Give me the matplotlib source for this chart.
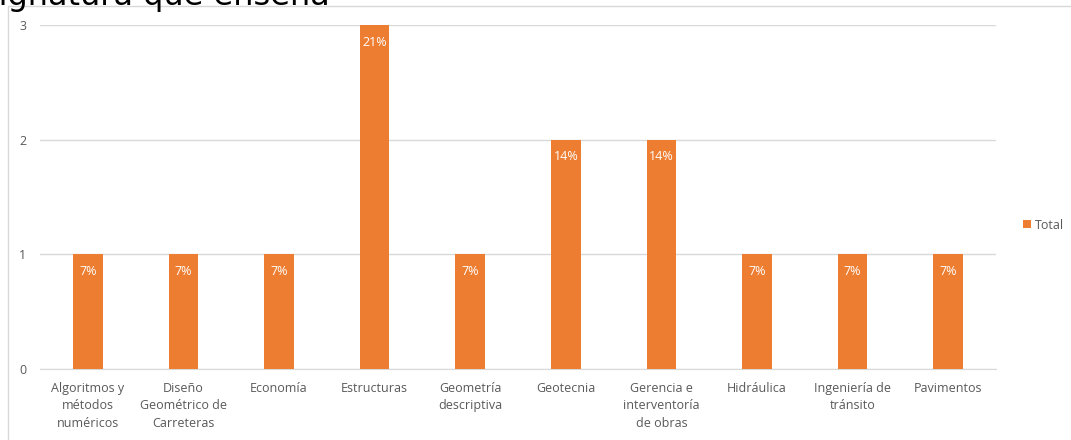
import matplotlib
matplotlib.use("Agg")
import matplotlib.pyplot as plt
from matplotlib.patches import Rectangle

categories = ["Algoritmos y\nmétodos\nnuméricos", "Diseño\nGeométrico de\nCarreteras", "Economía",
              "Estructuras", "Geometría\ndescriptiva", "Geotecnia", "Gerencia e\ninterventoría\nde obras",
              "Hidráulica", "Ingeniería de\ntránsito", "Pavimentos"]
values = [1, 1, 1, 3, 1, 2, 2, 1, 1, 1]
pct_labels = ["7%", "7%", "7%", "21%", "7%", "14%", "14%", "7%", "7%", "7%"]
yticks = [0, 1, 2, 3]

plt.rcParams['font.family'] = ['Open Sans', 'DejaVu Sans']
orange = "#ED7D31"
grey_txt = "#595959"
grid_c = "#d9d9d9"

fig = plt.figure(figsize=(10.71, 4.4), dpi=100)
ax = fig.add_axes([40/1071, 1-369/440, (996-40)/1071, (369-25)/440])

x = list(range(len(categories)))
bars = ax.bar(x, values, width=0.31, color=orange, label="Total", zorder=3)
for xi, v, lab in zip(x, values, pct_labels):
    ax.annotate(lab, (xi, v), xytext=(0, -17), textcoords="offset pixels",
                ha="center", va="center", color="white", fontsize=9, zorder=4)

ax.set_xlim(-0.5, len(categories)-0.5)
ax.set_ylim(0, 3)
ax.set_yticks(yticks)
ax.set_yticklabels([str(t) for t in yticks])
ax.set_xticks(x)
ax.set_xticklabels(categories, fontsize=9, color=grey_txt, linespacing=1.45)
ax.tick_params(axis='y', length=0, pad=10, labelsize=9, labelcolor=grey_txt)
ax.tick_params(axis='x', length=0, pad=9)
ax.grid(axis='y', color=grid_c, linewidth=1, zorder=0)
for s in ["top", "right", "left"]:
    ax.spines[s].set_visible(False)
ax.spines["bottom"].set_color(grid_c)
ax.spines["bottom"].set_zorder(1)

# chart border
fig.patches.append(Rectangle((8/1071, -0.1), 1.1, 1-6/440+0.1, transform=fig.transFigure,
                             fill=False, edgecolor=grid_c, linewidth=1))

# cut-off title
fig.text(-40/1071, 1-5/440, "Asignatura que enseña", fontsize=23, color="black",
         ha="left", va="baseline", family="DejaVu Sans")

leg = fig.legend(handles=[bars], labels=["Total"], loc="center left",
                 bbox_to_anchor=(1012/1071, 1-225/440), frameon=False,
                 handlelength=0.6, handleheight=0.6, handletextpad=0.3, fontsize=9)
for t in leg.get_texts():
    t.set_color(grey_txt)

fig.savefig("out.png", dpi=100)
